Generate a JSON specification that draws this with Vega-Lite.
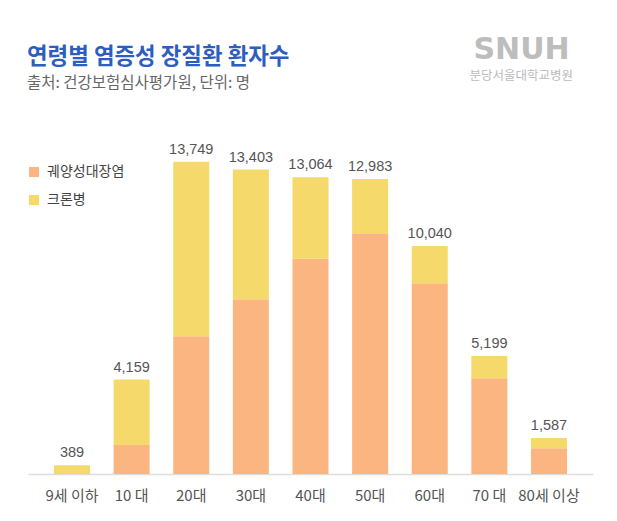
{
  "$schema": "https://vega.github.io/schema/vega-lite/v6.json",
  "width": 565,
  "height": 318,
  "autosize": "none",
  "padding": {"left": 28, "top": 156, "right": 24, "bottom": 47},
  "background": "white",
  "config": {"view": {"stroke": null}},
  "title": {
    "text": "연령별 염증성 장질환 환자수",
    "subtitle": "출처: 건강보험심사평가원, 단위: 명",
    "anchor": "start",
    "frame": "group",
    "offset": -57,
    "font": "Noto Sans CJK KR",
    "fontSize": 22.4,
    "fontWeight": "bold",
    "color": "#2D5DBF",
    "subtitleFont": "Noto Sans CJK KR",
    "subtitleFontSize": 15.5,
    "subtitleColor": "#666666",
    "subtitlePadding": 7,
    "dx": -1
  },
  "data": {
    "values": [
      {"age": "9세 이하", "type": "궤양성대장염", "value": 0},
      {"age": "9세 이하", "type": "크론병", "value": 389},
      {"age": "10 대", "type": "궤양성대장염", "value": 1280},
      {"age": "10 대", "type": "크론병", "value": 2879},
      {"age": "20대", "type": "궤양성대장염", "value": 6068},
      {"age": "20대", "type": "크론병", "value": 7681},
      {"age": "30대", "type": "궤양성대장염", "value": 7697},
      {"age": "30대", "type": "크론병", "value": 5706},
      {"age": "40대", "type": "궤양성대장염", "value": 9477},
      {"age": "40대", "type": "크론병", "value": 3587},
      {"age": "50대", "type": "궤양성대장염", "value": 10604},
      {"age": "50대", "type": "크론병", "value": 2379},
      {"age": "60대", "type": "궤양성대장염", "value": 8403},
      {"age": "60대", "type": "크론병", "value": 1637},
      {"age": "70 대", "type": "궤양성대장염", "value": 4219},
      {"age": "70 대", "type": "크론병", "value": 980},
      {"age": "80세 이상", "type": "궤양성대장염", "value": 1130},
      {"age": "80세 이상", "type": "크론병", "value": 457}
    ]
  },
  "encoding": {
    "x": {
      "field": "age",
      "type": "nominal",
      "sort": null,
      "scale": {"paddingInner": 0.396, "paddingOuter": 0.436},
      "axis": {
        "title": null,
        "labelAngle": 0,
        "labelFont": "Noto Sans CJK KR",
        "labelFontSize": 15,
        "labelColor": "#555555",
        "labelPadding": 14,
        "ticks": false,
        "domainColor": "#DDDDDD",
        "domainWidth": 1.5,
        "grid": false
      }
    }
  },
  "layer": [
    {
      "mark": {"type": "bar"},
      "encoding": {
        "y": {
          "field": "value",
          "type": "quantitative",
          "stack": "zero",
          "scale": {"domain": [0, 14000], "nice": false},
          "axis": {
            "title": "SNUH",
            "titleAngle": 0,
            "titleAlign": "left",
            "titleBaseline": "alphabetic",
            "titleX": 445,
            "titleY": -98,
            "titleFont": "DejaVu Sans",
            "titleFontSize": 30,
            "titleFontWeight": "bold",
            "titleColor": "#BDBDBD",
            "labels": false,
            "ticks": false,
            "domain": false,
            "grid": false
          }
        },
        "color": {
          "field": "type",
          "type": "nominal",
          "scale": {"domain": ["궤양성대장염", "크론병"], "range": ["#FBB580", "#F5D96B"]},
          "legend": {
            "title": null,
            "orient": "none",
            "legendX": -1,
            "legendY": 9,
            "symbolType": "square",
            "symbolSize": 100,
            "symbolStrokeWidth": 0,
            "labelFont": "Noto Sans CJK KR",
            "labelFontSize": 14,
            "labelColor": "#444444",
            "labelOffset": 6,
            "rowPadding": 14
          }
        },
        "order": {"field": "type", "sort": "ascending"}
      }
    },
    {
      "mark": {
        "type": "text",
        "baseline": "alphabetic",
        "dy": -8,
        "font": "Liberation Sans",
        "fontSize": 14.5,
        "color": "#555555"
      },
      "encoding": {
        "y": {
          "aggregate": "sum",
          "field": "value",
          "type": "quantitative",
          "scale": {"domain": [0, 14000], "nice": false},
          "axis": {
            "orient": "right",
            "title": "분당서울대학교병원",
            "titleAngle": 0,
            "titleAlign": "left",
            "titleBaseline": "alphabetic",
            "titleX": -124,
            "titleY": -77,
            "titleFont": "Noto Sans CJK KR",
            "titleFontSize": 12.5,
            "titleFontWeight": "normal",
            "titleColor": "#BBBBBB",
            "labels": false,
            "ticks": false,
            "domain": false,
            "grid": false
          }
        },
        "text": {"aggregate": "sum", "field": "value", "type": "quantitative", "format": ","}
      }
    }
  ],
  "resolve": {"axis": {"y": "independent"}}
}
